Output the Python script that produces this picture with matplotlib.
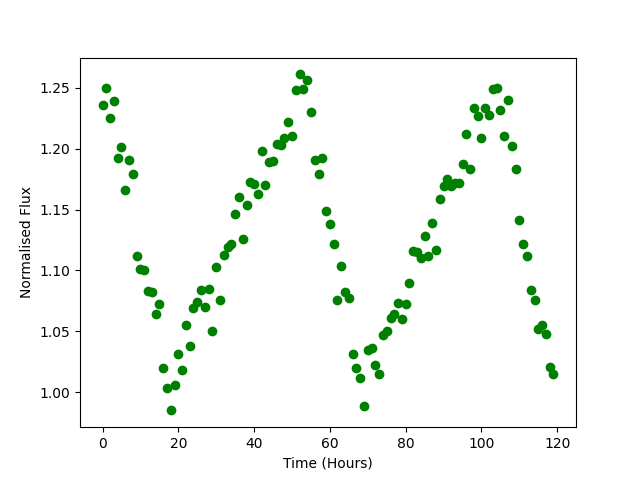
import numpy as np
import matplotlib.pyplot as plt

# light curve, one sample per hour
time = np.arange(120)
flux = [
    1.236, 1.250, 1.225, 1.239, 1.192, 1.201, 1.166, 1.191, 1.179, 1.112,
    1.101, 1.100, 1.083, 1.082, 1.064, 1.072, 1.020, 1.003, 0.985, 1.006,
    1.031, 1.018, 1.055, 1.038, 1.069, 1.074, 1.084, 1.070, 1.085, 1.050,
    1.103, 1.076, 1.113, 1.119, 1.122, 1.146, 1.160, 1.126, 1.154, 1.173,
    1.171, 1.163, 1.198, 1.170, 1.189, 1.190, 1.204, 1.203, 1.209, 1.222,
    1.210, 1.248, 1.261, 1.249, 1.256, 1.230, 1.191, 1.179, 1.192, 1.149,
    1.138, 1.122, 1.076, 1.104, 1.082, 1.077, 1.031, 1.020, 1.012, 0.989,
    1.035, 1.036, 1.022, 1.015, 1.047, 1.050, 1.061, 1.064, 1.073, 1.060,
    1.072, 1.090, 1.116, 1.115, 1.110, 1.128, 1.112, 1.139, 1.117, 1.159,
    1.169, 1.175, 1.169, 1.172, 1.172, 1.187, 1.212, 1.183, 1.233, 1.227,
    1.209, 1.233, 1.228, 1.249, 1.250, 1.232, 1.210, 1.240, 1.202, 1.183,
    1.141, 1.122, 1.112, 1.084, 1.076, 1.052, 1.055, 1.048, 1.021, 1.015,
]

plt.figure(figsize=(6.4, 4.8), dpi=100)
plt.plot(time, flux, 'go')
plt.xlabel("Time (Hours)")
plt.ylabel("Normalised Flux")
plt.savefig("out.png")
